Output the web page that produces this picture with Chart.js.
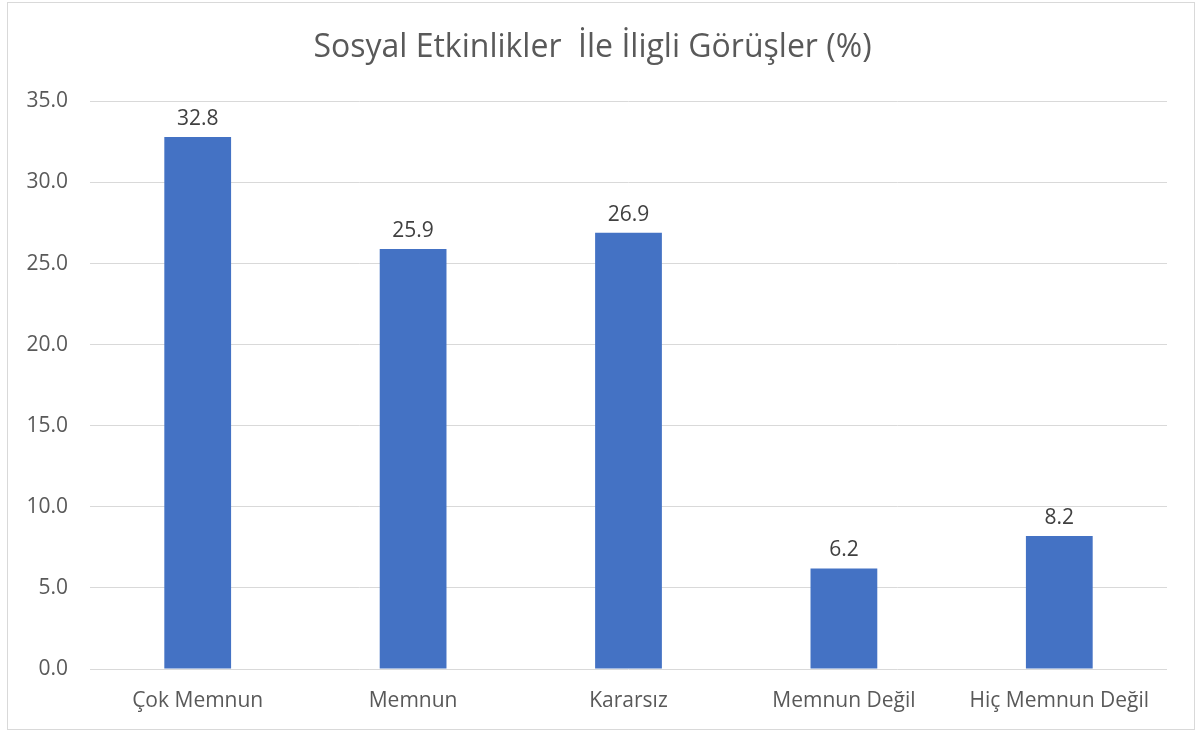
<!DOCTYPE html>
<html>
<head>
<meta charset="utf-8">
<script src="https://cdn.jsdelivr.net/npm/chart.js@4"></script>
<style>
  html, body { margin: 0; padding: 0; background: #fff; }
  #box {
    position: absolute; left: 7px; top: 2px;
    width: 1186px; height: 726px;
    border: 1px solid #d9d9d9;
  }
</style>
</head>
<body>
<div id="box"><canvas id="chart" width="1186" height="726"></canvas></div>
<script>
var labels = ['Çok Memnun', 'Memnun', 'Kararsız', 'Memnun Değil', 'Hiç Memnun Değil'];
var values = [32.8, 25.9, 26.9, 6.2, 8.2];
var yMin = 0;
var yMax = 35;
var yStep = 5;

var FONT = '"Open Sans", Lato, sans-serif';

// draws the value above each bar
var valueLabels = {
    id: 'valueLabels',
    afterDatasetsDraw: function (chart) {
        var ctx = chart.ctx;
        var meta = chart.getDatasetMeta(0);
        ctx.save();
        ctx.font = '21px ' + FONT;
        ctx.fillStyle = '#404040';
        ctx.textAlign = 'center';
        ctx.textBaseline = 'middle';
        meta.data.forEach(function (bar, i) {
            ctx.fillText(values[i].toFixed(1), bar.x, bar.y - 18);
        });
        ctx.restore();
    }
};

var ctx = document.getElementById('chart');

var myChart = new Chart(ctx, {
    type: 'bar',
    data: {
        labels: labels,
        datasets: [
            {
                data: values,
                backgroundColor: '#4472C4',
                categoryPercentage: 1,
                barPercentage: 0.31
            }
        ]
    },
    options: {
        responsive: false,
        animation: false,
        layout: {
            padding: { left: 10, right: 27, top: 0, bottom: 0 }
        },
        plugins: {
            title: {
                display: true,
                text: 'Sosyal Etkinlikler  İle İligli Görüşler (%)',
                color: '#595959',
                font: { family: FONT, size: 32, weight: 'normal' },
                padding: { top: 26, bottom: 34 }
            },
            legend: { display: false },
            tooltip: { enabled: false }
        },
        scales: {
            x: {
                grid: { display: false, drawTicks: false },
                border: { display: false },
                ticks: {
                    color: '#595959',
                    font: { family: FONT, size: 21 },
                    padding: 19,
                    maxRotation: 0
                },
                afterFit: function (s) { s.height = 60; }
            },
            y: {
                min: yMin,
                max: yMax,
                grid: { color: '#d9d9d9', lineWidth: 1, drawTicks: false },
                border: { display: false },
                ticks: {
                    stepSize: yStep,
                    color: '#595959',
                    font: { family: FONT, size: 21 },
                    padding: 22,
                    callback: function (v) { return v.toFixed(1); }
                },
                afterFit: function (s) { s.width = 72; }
            }
        }
    },
    plugins: [valueLabels]
});
</script>
</body>
</html>
